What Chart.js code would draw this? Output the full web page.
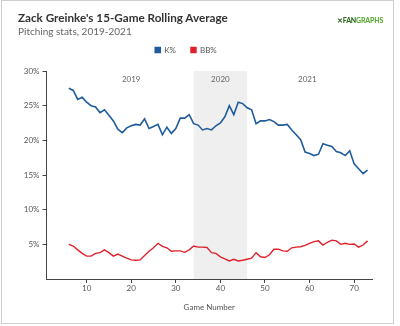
<!DOCTYPE html>
<html><head><meta charset="utf-8">
<script src="https://cdn.jsdelivr.net/npm/chart.js@4"></script>
<style>
html,body{margin:0;padding:0;background:#fff;}
#wrap{position:relative;width:400px;height:326px;overflow:hidden;background:#fff;font-family:Lato,"Open Sans",sans-serif;}
#frame{position:absolute;left:1px;top:0px;width:393px;height:324px;border:1px solid #cfcfcf;box-sizing:border-box;}
#title{position:absolute;left:18px;top:10px;font-size:11.7px;font-weight:bold;color:#333;white-space:nowrap;}
#sub{position:absolute;left:18px;top:25px;font-size:10px;color:#666;white-space:nowrap;}
#logo{position:absolute;left:337px;top:16px;font-size:7px;font-weight:900;white-space:nowrap;letter-spacing:-0.2px;}
#logo .a{color:#2e6b1f}
#logo .b{color:#5fae3a}
canvas{position:absolute;left:0;top:0;}
</style>
</head><body>
<div id="wrap">
<div id="frame"></div>
<canvas id="c" width="400" height="326"></canvas>
<div id="title">Zack Greinke's 15-Game Rolling Average</div>
<div id="sub">Pitching stats, 2019-2021</div>
<div id="logo"><span class="a">✕FAN</span><span class="b">GRAPHS</span></div>
</div>
<script>
const games = [6,7,8,9,10,11,12,13,14,15,16,17,18,19,20,21,22,23,24,25,26,27,28,29,30,31,32,33,34,35,36,37,38,39,40,41,42,43,44,45,46,47,48,49,50,51,52,53,54,55,56,57,58,59,60,61,62,63,64,65,66,67,68,69,70,71,72,73];
const kPct = [27.5,27.2,25.9,26.2,25.5,25.0,24.8,24.0,24.4,23.6,22.8,21.6,21.1,21.8,22.1,22.3,22.2,23.1,21.7,22.0,22.3,20.8,21.9,21.0,21.7,23.2,23.2,23.7,22.4,22.2,21.5,21.7,21.5,22.1,22.5,23.4,25.0,23.7,25.5,25.3,24.7,24.4,22.4,22.8,22.8,23.0,22.7,22.2,22.2,22.3,21.5,20.8,20.1,18.3,18.1,17.8,18.0,19.5,19.3,19.1,18.4,18.2,17.8,18.5,16.6,15.9,15.2,15.7];
const bbPct = [5.0,4.75,4.2,3.7,3.3,3.3,3.7,3.8,4.2,3.8,3.3,3.6,3.3,3.0,2.75,2.7,2.75,3.4,4.0,4.5,5.15,4.7,4.5,4.0,4.05,4.05,3.85,4.2,4.75,4.6,4.6,4.55,3.8,3.7,3.2,2.9,2.6,2.85,2.6,2.7,2.85,3.0,3.8,3.2,3.1,3.5,4.3,4.3,4.05,4.0,4.5,4.6,4.65,4.85,5.15,5.4,5.5,4.9,5.3,5.6,5.5,5.0,5.15,5.0,5.05,4.6,4.9,5.5];
const seasonLabels = ['2019','2020','2021'];
const seasonStart = [6,34,46];
const seasonEnd = [34,46,73];
const shadedSeason = '2020';
const xTicks = [10,20,30,40,50,60,70];
const yTicks = [5,10,15,20,25,30];

const seasonPlugin = {
  id:'seasons',
  beforeDatasetsDraw(chart){
    const {ctx, chartArea, scales} = chart;
    ctx.save();
    seasonLabels.forEach((lab,i)=>{
      const x0 = scales.x.getPixelForValue(seasonStart[i]);
      const x1 = scales.x.getPixelForValue(seasonEnd[i]);
      if(lab===shadedSeason){
        ctx.fillStyle='#efefef';
        ctx.fillRect(x0, chartArea.top, x1-x0, chartArea.bottom-chartArea.top);
      }
      ctx.fillStyle='#666';
      ctx.font='8px Lato, sans-serif';
      ctx.textAlign='center';
      ctx.textBaseline='middle';
      ctx.fillText(lab,(x0+x1)/2, chartArea.top+8);
    });
    ctx.restore();
  }
};

const legendGap = {
  id:'legendGap',
  beforeInit(chart){
    const lg = chart.legend;
    if(!lg) return;
    const orig = lg.fit;
    lg.fit = function(){ orig.call(this); this.height += 7; };
  }
};

new Chart(document.getElementById('c'),{
  type:'line',
  data:{datasets:[
    {label:'K%', data:games.map((g,i)=>({x:g,y:kPct[i]})), borderColor:'#1f5c9c', backgroundColor:'#1f5c9c', borderWidth:1.6, pointRadius:0, tension:0},
    {label:'BB%', data:games.map((g,i)=>({x:g,y:bbPct[i]})), borderColor:'#e0202a', backgroundColor:'#e0202a', borderWidth:1.4, pointRadius:0, tension:0}
  ]},
  options:{
    responsive:false, animation:false,
    layout:{padding:{left:0,right:28,top:31,bottom:14}},
    plugins:{
      legend:{display:true, position:'top', labels:{boxWidth:5, boxHeight:5, padding:15, color:'#555', font:{family:'Lato', size:8}}},
      tooltip:{enabled:false}
    },
    scales:{
      x:{type:'linear', min:1, max:74,
        afterBuildTicks(s){ s.ticks = xTicks.map(v=>({value:v})); },
        afterFit(s){ s.height = 33; },
        grid:{display:true, drawOnChartArea:false, drawTicks:true, tickLength:4, color:'#444'},
        border:{display:true, color:'#444', width:1},
        ticks:{color:'#555', padding:1, font:{family:'Lato', size:8}},
        title:{display:true, text:'Game Number', color:'#555', font:{family:'Lato', size:8}, padding:{top:4,bottom:0}}
      },
      y:{min:0, max:30,
        afterBuildTicks(s){ s.ticks = yTicks.map(v=>({value:v})); },
        afterFit(s){ s.width = 46.5; },
        grid:{display:true, drawOnChartArea:false, drawTicks:true, tickLength:4, color:'#444'},
        border:{display:true, color:'#444', width:1},
        ticks:{color:'#555', padding:3, font:{family:'Lato', size:8}, callback:v=>v+'%'}
      }
    }
  },
  plugins:[legendGap, seasonPlugin]
});
</script>
</body></html>
